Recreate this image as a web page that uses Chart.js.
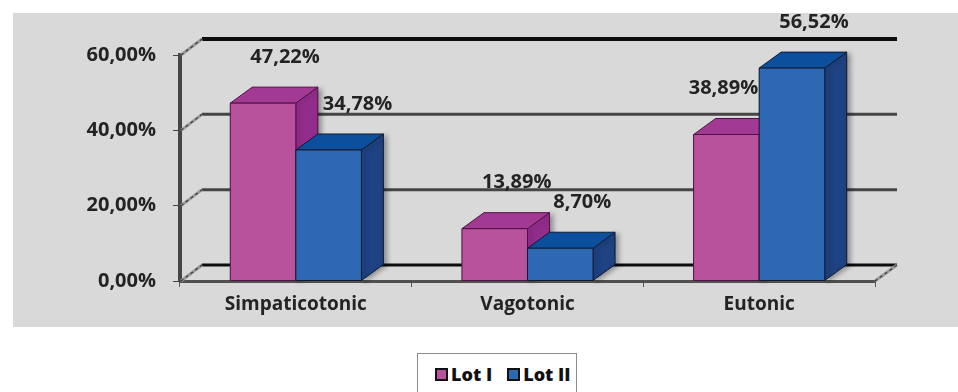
<!DOCTYPE html>
<html>
<head>
<meta charset="utf-8">
<script src="https://cdn.jsdelivr.net/npm/chart.js@4/dist/chart.umd.min.js"></script>
<style>
  html, body { margin: 0; padding: 0; background: #fff; }
  #wrap { position: relative; width: 958px; height: 392px; overflow: hidden; }
  canvas { display: block; }
  #legend {
    position: absolute; left: 417px; top: 353px; width: 160px; height: 46px;
    box-sizing: border-box; background: #fff; border: 1px solid #8c8c8c;
    font-family: 'Open Sans', sans-serif; font-weight: 800; font-size: 18px; color: #111;
    display: flex; align-items: flex-start; padding: 8px 0 0 17px; gap: 15px;
  }
  #legend .item { display: flex; align-items: center; gap: 3px; line-height: 24px; }
  #legend .sw { width: 9px; height: 9px; border: 2px solid #111; display: inline-block; }
</style>
</head>
<body>
<div id="wrap">
  <canvas id="c" width="958" height="392"></canvas>
  <div id="legend"></div>
</div>
<script>
// Share of subjects per autonomic tonus type, two lots
const categories = ['Simpaticotonic', 'Vagotonic', 'Eutonic'];
const seriesNames = ['Lot I', 'Lot II'];
const lotI = [47.22, 13.89, 38.89];
const lotII = [34.78, 8.70, 56.52];
const yTicks = [0, 20, 40, 60];

// face colours for each series: front, top, side, outline
const palettes = [
  { front: '#b9529c', top: '#a23a93', side: '#922d8c', edge: '#4e1046' },
  { front: '#2f68b2', top: '#0c4f9c', side: '#1e4282', edge: '#111a33' }
];

const DX = 22, DY = 16;           // depth offset of the 3D box
const FONT = "'Open Sans', sans-serif";
const LABEL_FONT = `bold 20px ${FONT}`;

const fmt = v => v.toFixed(2).replace('.', ',') + '%';

function seg(ctx, x1, y1, x2, y2) {
  ctx.beginPath(); ctx.moveTo(x1, y1); ctx.lineTo(x2, y2); ctx.stroke();
}

const panelPlugin = {
  id: 'panel',
  beforeDraw(chart) {
    const ctx = chart.ctx;
    ctx.save();
    ctx.fillStyle = '#ffffff';
    ctx.fillRect(0, 0, chart.width, chart.height);
    ctx.fillStyle = '#d9d9d9';
    ctx.fillRect(13, 13, chart.width - 13, 314);
    ctx.restore();
  }
};

function dashedEdge(ctx, x1, y1, x2, y2) {
  ctx.strokeStyle = '#9a9a9a'; ctx.lineWidth = 3;
  seg(ctx, x1, y1, x2, y2);
  ctx.setLineDash([3, 3]); ctx.strokeStyle = '#3a3a3a'; ctx.lineWidth = 1.2;
  seg(ctx, x1, y1, x2, y2);
  ctx.setLineDash([]);
}

const wallsPlugin = {
  id: 'walls',
  beforeDatasetsDraw(chart) {
    const { ctx, chartArea: a } = chart;
    const y = chart.scales.y;
    ctx.save();
    ctx.lineCap = 'butt';
    yTicks.forEach(v => {
      const py = y.getPixelForValue(v);
      // back wall gridline
      const outer = (v === yTicks[0] || v === yTicks[yTicks.length - 1]);
      ctx.strokeStyle = outer ? '#0d0d0d' : '#454545';
      ctx.lineWidth = v === yTicks[yTicks.length - 1] ? 4 : 3;
      seg(ctx, a.left + DX, py - DY, a.right + DX, py - DY);
      // side wall connector
      dashedEdge(ctx, a.left + 1, py, a.left + DX, py - DY);
    });
    // right edge of the floor
    const pb = y.getPixelForValue(0);
    dashedEdge(ctx, a.right, pb, a.right + DX, pb - DY);
    ctx.restore();
  }
};

function poly(ctx, pts, fill, edge) {
  ctx.beginPath();
  ctx.moveTo(pts[0][0], pts[0][1]);
  for (let i = 1; i < pts.length; i++) ctx.lineTo(pts[i][0], pts[i][1]);
  ctx.closePath();
  ctx.fillStyle = fill; ctx.fill();
  ctx.strokeStyle = edge; ctx.lineWidth = 1; ctx.stroke();
}

const boxPlugin = {
  id: 'boxes',
  afterDatasetsDraw(chart) {
    const ctx = chart.ctx;
    ctx.save();
    ctx.lineJoin = 'miter';
    categories.forEach((_, i) => {
      chart.data.datasets.forEach((ds, d) => {
        const el = chart.getDatasetMeta(d).data[i];
        const p = palettes[d];
        const x0 = el.x - el.width / 2, x1 = el.x + el.width / 2;
        const yt = el.y, yb = el.base;
        // side face with a soft drop shadow
        ctx.save();
        ctx.shadowColor = 'rgba(0,0,0,0.35)'; ctx.shadowBlur = 5; ctx.shadowOffsetX = 3; ctx.shadowOffsetY = 1;
        poly(ctx, [[x1, yt], [x1 + DX, yt - DY], [x1 + DX, yb - DY], [x1, yb]], p.side, p.edge);
        ctx.restore();
        poly(ctx, [[x0, yt], [x1, yt], [x1 + DX, yt - DY], [x0 + DX, yt - DY]], p.top, p.edge);
        poly(ctx, [[x0, yt], [x1, yt], [x1, yb], [x0, yb]], p.front, p.edge);
      });
    });
    // value labels above each box; a label moves sideways when a taller
    // neighbouring box of the same category would otherwise cover it
    ctx.fillStyle = '#232323';
    ctx.font = LABEL_FONT;
    ctx.textBaseline = 'middle';
    ctx.textAlign = 'center';
    const nSets = chart.data.datasets.length;
    chart.data.datasets.forEach((ds, d) => {
      chart.getDatasetMeta(d).data.forEach((el, i) => {
        const text = fmt(ds.data[i]);
        const w = ctx.measureText(text).width;
        const cy = el.y - 46;
        let cx = el.x + DX;
        if (d < nSets - 1) {
          const next = chart.getDatasetMeta(d + 1).data[i];
          const nx0 = next.x - next.width / 2;
          if (next.y - DY < cy + 10 && cx + w / 2 > nx0) cx = nx0 - 1 - w / 2;
        }
        if (d > 0) {
          const prev = chart.getDatasetMeta(d - 1).data[i];
          const px1 = prev.x + prev.width / 2 + DX;
          if (prev.y - DY < cy + 10 && cx - w / 2 < px1 + 5) cx = px1 + 5 + w / 2;
        }
        ctx.fillText(text, cx, cy);
      });
    });
    ctx.restore();
  }
};

const chart = new Chart(document.getElementById('c'), {
  type: 'bar',
  data: {
    labels: categories,
    datasets: [
      { label: seriesNames[0], data: lotI, backgroundColor: palettes[0].front },
      { label: seriesNames[1], data: lotII, backgroundColor: palettes[1].front }
    ]
  },
  options: {
    responsive: false,
    animation: false,
    events: [],
    layout: { padding: { left: 0, top: 55, right: 83, bottom: 71 } },
    datasets: { bar: { categoryPercentage: 0.566, barPercentage: 1 } },
    plugins: { legend: { display: false }, tooltip: { enabled: false } },
    scales: {
      x: {
        grid: { offset: true, drawOnChartArea: false, drawTicks: true, tickLength: 6, color: '#555', lineWidth: 1 },
        border: { display: true, color: '#505050', width: 3 },
        ticks: { color: '#232323', font: { family: FONT, size: 19, weight: 'bold' }, padding: 6 },
        afterFit(s) { s.height = 40; }
      },
      y: {
        min: yTicks[0], max: yTicks[yTicks.length - 1],
        ticks: { stepSize: 20, callback: v => fmt(v), color: '#232323', font: { family: FONT, size: 20, weight: 'bold' }, padding: 17 },
        grid: { drawOnChartArea: false, drawTicks: true, tickLength: 7, color: '#444', lineWidth: 1 },
        border: { display: true, color: '#454545', width: 4 },
        afterFit(s) { s.width = 180; }
      }
    }
  },
  plugins: [panelPlugin, wallsPlugin, boxPlugin]
});

// legend built from the datasets
const legend = document.getElementById('legend');
chart.data.datasets.forEach(ds => {
  const item = document.createElement('span');
  item.className = 'item';
  const sw = document.createElement('span');
  sw.className = 'sw';
  sw.style.background = ds.backgroundColor;
  const t = document.createElement('span');
  t.textContent = ds.label;
  item.appendChild(sw); item.appendChild(t);
  legend.appendChild(item);
});
</script>
</body>
</html>
